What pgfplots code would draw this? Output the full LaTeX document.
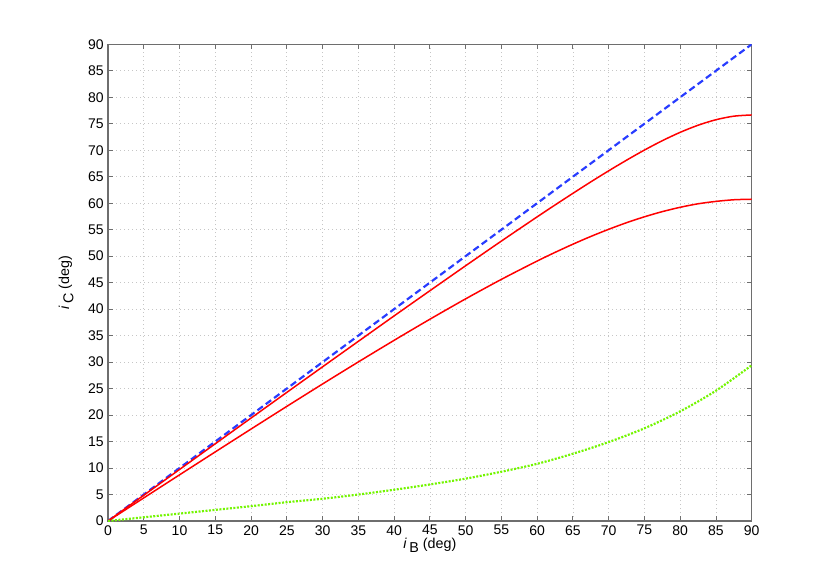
\documentclass[border=0pt]{standalone}
\usepackage{pgfplots}
\pgfplotsset{compat=1.18}
\usepackage{fontspec}
\setmainfont{Liberation Sans}
\definecolor{myblue}{RGB}{40,60,255}
\definecolor{mygreen}{RGB}{115,245,0}
\definecolor{axgray}{RGB}{110,110,110}
\begin{document}
\begin{tikzpicture}[x=0.6pt,y=0.6pt]
\path[use as bounding box] (0,0) rectangle (830,586);
\begin{axis}[
  at={(108*0.6pt,65*0.6pt)}, anchor=south west,
  width=643.7*0.6pt, height=476.7*0.6pt, scale only axis,
  xmin=0, xmax=90, ymin=0, ymax=90,
  xtick={0,5,...,90}, ytick={0,5,...,90},
  tick align=inside, major tick length=3pt,
  axis line style={axgray, line width=0.7pt},
  tick style={axgray, line width=0.5pt},
  grid=major, major grid style={gray!45, dotted, line width=0.4pt},
  ticklabel style={font=\fontsize{8.4}{9}\selectfont},
  /pgf/number format/assume math mode=true,
  xticklabel style={yshift=1pt},
  yticklabel style={xshift=1pt},
  xlabel={\fontsize{8.6}{9}\selectfont\textit{i}\,\raisebox{-0.55ex}{B} (deg)},
  ylabel={\fontsize{8.6}{9}\selectfont\textit{i}\,\raisebox{-0.55ex}{C} (deg)},
  xlabel style={yshift=5pt},
  ylabel style={yshift=2pt},
]
\addplot[myblue, line width=1.3pt, dash pattern=on 4pt off 2.2pt] coordinates {(0,0) (90,90)};
\addplot[red, line width=0.9pt, smooth] coordinates {
(0,0) (5,4.865) (10,9.728) (15,14.586) (20,19.439) (25,24.28) (30,29.11) (35,33.92)
(40,38.72) (45,43.47) (50,48.19) (55,52.85) (60,57.42) (62.5,59.66) (65,61.86) (67.5,64.02) (70,66.11)
(72.5,68.12) (75,70.03) (77.5,71.8) (80,73.38) (82.5,74.72) (85,75.76) (87.5,76.43) (90,76.66)};
\addplot[red, line width=0.9pt, smooth] coordinates {
(0,0) (5,4.361) (10,8.715) (15,13.05) (20,17.36) (25,21.64) (30,25.87) (35,30.03)
(40,34.11) (45,38.09) (50,41.94) (55,45.62) (60,49.08) (62.5,50.71) (65,52.26) (67.5,53.72) (70,55.07)
(72.5,56.32) (75,57.43) (77.5,58.41) (80,59.23) (82.5,59.89) (85,60.34) (87.5,60.65) (90,60.75)};
\addplot[mygreen, line width=1.3pt, dash pattern=on 1.2pt off 0.9pt, smooth] coordinates {
(0,0) (5,0.7) (10,1.4) (15,2.1) (20,2.8) (25,3.55) (30,4.2) (35,5.0) (40,5.9)
(45,6.9) (50,8.0) (55,9.3) (60,10.8) (65,12.7) (70,14.9) (75,17.5) (80,20.7)
(85,24.6) (90,29.4)};
\end{axis}
\end{tikzpicture}
\end{document}
